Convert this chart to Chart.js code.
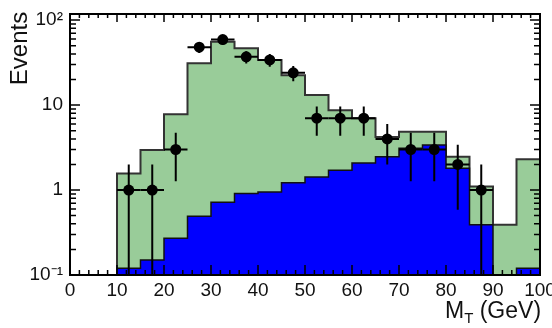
<!DOCTYPE html>
<html>
<head>
<meta charset="utf-8">
<script src="https://cdn.jsdelivr.net/npm/chart.js@4/dist/chart.umd.min.js"></script>
<style>
  html, body { margin: 0; padding: 0; background: #fff; }
  #wrap { width: 552px; height: 328px; position: relative; }
</style>
</head>
<body>
<div id="wrap"><canvas id="c" width="552" height="328"></canvas></div>
<script>
// Transverse mass histogram, 5 GeV bins
const binLow = [10, 15, 20, 25, 30, 35, 40, 45, 50, 55, 60, 65, 70, 75, 80, 85, 90, 95];
const binWidth = 5;
// total expectation (all processes)
const totalExp = [1.57, 2.96, 7.8, 31, 55.5, 46.5, 34, 22.5, 13.1, 8.7, 7.0, 4.2, 4.85, 4.85, 2.47, 1.1, 0.39, 2.3];
// signal-like component (the 90-95 bin is empty)
const blueExp = [0.12, 0.15, 0.27, 0.49, 0.72, 0.91, 0.95, 1.22, 1.42, 1.71, 2.08, 2.47, 3.1, 3.4, 1.8, 0.39, 0, 0.12];
// observed events at bin centres
const dataX = [12.5, 17.5, 22.5, 27.5, 32.5, 37.5, 42.5, 47.5, 52.5, 57.5, 62.5, 67.5, 72.5, 77.5, 82.5, 87.5];
const dataN = [1, 1, 3, 48, 59, 37, 34, 24, 7, 7, 7, 4, 3, 3, 2, 1];
// axis tick labels
const xTicks = [0, 10, 20, 30, 40, 50, 60, 70, 80, 90, 100];
const yTickLabels = { '-1': '10\u207B\u00B9', '0': '1', '1': '10', '2': '10\u00B2' };

const FONT = "'Liberation Sans', Arial, Helvetica, sans-serif";
// a log axis cannot place zero, so empty bins sit far below the visible range
const FLOOR = 1e-4;

function stepPoints(vals) {
  const pts = [{ x: binLow[0], y: FLOOR }];
  vals.forEach((v, i) => pts.push({ x: binLow[i], y: v > 0 ? v : FLOOR }));
  const last = binLow.length - 1;
  pts.push({ x: binLow[last] + binWidth, y: vals[last] > 0 ? vals[last] : FLOOR });
  return pts;
}

const errorBars = {
  id: 'errorBars',
  afterDatasetsDraw(chart) {
    const { ctx, chartArea: a } = chart;
    const xs = chart.scales.x, ys = chart.scales.y;
    ctx.save();
    ctx.beginPath();
    ctx.rect(a.left, a.top, a.right - a.left, a.bottom - a.top);
    ctx.clip();
    ctx.strokeStyle = '#000';
    ctx.lineWidth = 2;
    dataX.forEach((x, i) => {
      const n = dataN[i];
      const e = Math.sqrt(n);
      const px = xs.getPixelForValue(x);
      const hi = ys.getPixelForValue(n + e);
      const lo = n - e > 0 ? ys.getPixelForValue(n - e) : a.bottom + 2;
      const py = ys.getPixelForValue(n);
      ctx.beginPath();
      ctx.moveTo(px, hi); ctx.lineTo(px, lo);
      ctx.moveTo(xs.getPixelForValue(x - binWidth / 2), py);
      ctx.lineTo(xs.getPixelForValue(x + binWidth / 2), py);
      ctx.stroke();
      ctx.fillStyle = '#000';
      ctx.beginPath();
      ctx.arc(px, py, 5.5, 0, Math.PI * 2);
      ctx.fill();
    });
    ctx.restore();
  }
};

const frameAndTicks = {
  id: 'frameAndTicks',
  afterDraw(chart) {
    const { ctx, chartArea: a } = chart;
    const xs = chart.scales.x, ys = chart.scales.y;
    ctx.save();
    ctx.strokeStyle = '#000';
    ctx.lineWidth = 1.5;
    ctx.beginPath();
    for (let v = 0; v <= 100; v += 2) {
      const px = xs.getPixelForValue(v);
      const major = v % 10 === 0;
      ctx.moveTo(px, a.bottom); ctx.lineTo(px, a.bottom - (major ? 10 : 5));
      ctx.moveTo(px, a.top); ctx.lineTo(px, a.top + (major ? 8 : 4));
    }
    for (let d = -1; d <= 2; d++) {
      for (let m = 1; m <= 9; m++) {
        const v = m * Math.pow(10, d);
        if (v > ys.max) break;
        const py = ys.getPixelForValue(v);
        const len = m === 1 ? 10 : 6;
        ctx.moveTo(a.left, py); ctx.lineTo(a.left + len, py);
        ctx.moveTo(a.right, py); ctx.lineTo(a.right - len, py);
      }
    }
    ctx.stroke();
    ctx.lineWidth = 2;
    ctx.strokeRect(a.left, a.top, a.right - a.left, a.bottom - a.top);

    // axis titles
    ctx.fillStyle = '#111';
    ctx.textBaseline = 'alphabetic';
    ctx.font = '23px ' + FONT;
    ctx.textAlign = 'left';
    const x0 = 445, base = 318;
    ctx.fillText('M', x0, base);
    const wM = ctx.measureText('M').width;
    ctx.font = '15px ' + FONT;
    ctx.fillText('T', x0 + wM, base + 5);
    const wT = ctx.measureText('T').width;
    ctx.font = '23px ' + FONT;
    ctx.fillText(' (GeV)', x0 + wM + wT, base);

    ctx.save();
    ctx.translate(27, 48.5);
    ctx.rotate(-Math.PI / 2);
    ctx.font = '24px ' + FONT;
    ctx.textAlign = 'center';
    ctx.fillText('Events', 0, 0);
    ctx.restore();
    ctx.restore();
  }
};

new Chart(document.getElementById('c'), {
  type: 'line',
  data: {
    datasets: [
      {
        label: 'total',
        data: stepPoints(totalExp),
        stepped: 'before',
        fill: 'start',
        backgroundColor: 'rgb(153,204,153)',
        borderColor: '#333',
        borderWidth: 2,
        pointRadius: 0,
        order: 3
      },
      {
        label: 'signal',
        data: stepPoints(blueExp),
        stepped: 'before',
        fill: 'start',
        backgroundColor: 'rgb(0,0,255)',
        borderColor: '#111',
        borderWidth: 1.5,
        pointRadius: 0,
        order: 2
      }
    ]
  },
  options: {
    responsive: false,
    animation: false,
    devicePixelRatio: 1,
    layout: { padding: { top: 14, right: 12, left: 0, bottom: 0 } },
    plugins: { legend: { display: false }, tooltip: { enabled: false } },
    scales: {
      x: {
        type: 'linear',
        min: 0, max: 100,
        afterBuildTicks(s) { s.ticks = xTicks.map(v => ({ value: v })); },
        afterFit(s) { s.height = 53; s.paddingLeft = 0; s.paddingRight = 0; },
        grid: { display: false, drawTicks: false },
        border: { display: false },
        ticks: { padding: 4, color: '#111', font: { size: 19, family: FONT }, maxRotation: 0, autoSkip: false }
      },
      y: {
        type: 'logarithmic',
        min: 0.1, max: 118,
        afterFit(s) { s.width = 70; s.paddingTop = 0; s.paddingBottom = 0; },
        grid: { display: false, drawTicks: false },
        border: { display: false },
        ticks: {
          padding: 7, color: '#111', autoSkip: false,
          font: { size: 19, family: FONT },
          callback(v) {
            const l = Math.log10(v);
            const r = Math.round(l);
            return Math.abs(l - r) < 1e-6 && yTickLabels[r] !== undefined ? yTickLabels[r] : '';
          }
        }
      }
    }
  },
  plugins: [errorBars, frameAndTicks]
});
</script>
</body>
</html>
